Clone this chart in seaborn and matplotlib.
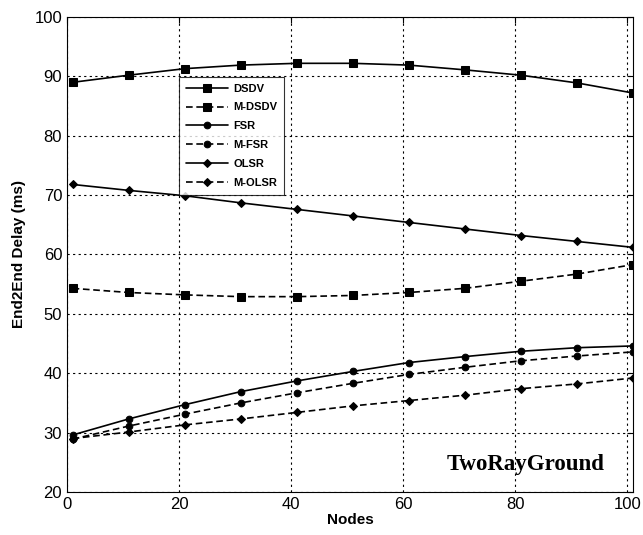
import matplotlib
matplotlib.use("Agg")
import matplotlib.pyplot as plt
import seaborn as sns
import pandas as pd

nodes = [1, 11, 21, 31, 41, 51, 61, 71, 81, 91, 101]
dsdv = [89.0, 90.2, 91.3, 91.9, 92.2, 92.2, 91.9, 91.1, 90.2, 88.9, 87.2]
m_dsdv = [54.3, 53.6, 53.2, 52.9, 52.9, 53.1, 53.6, 54.3, 55.5, 56.7, 58.3]
fsr = [29.6, 32.3, 34.7, 36.9, 38.7, 40.3, 41.8, 42.8, 43.7, 44.3, 44.6]
m_fsr = [28.9, 31.1, 33.1, 35.0, 36.7, 38.3, 39.8, 41.0, 42.1, 42.9, 43.6]
olsr = [71.8, 70.8, 69.9, 68.7, 67.6, 66.5, 65.4, 64.3, 63.2, 62.2, 61.2]
m_olsr = [29.0, 30.1, 31.3, 32.3, 33.4, 34.5, 35.4, 36.3, 37.4, 38.2, 39.2]
series_names = ["DSDV", "M-DSDV", "FSR", "M-FSR", "OLSR", "M-OLSR"]
x_ticks = [0, 20, 40, 60, 80, 100]
y_ticks = [20, 30, 40, 50, 60, 70, 80, 90, 100]

sns.set_style("white")
plt.rcParams["font.family"] = ["Liberation Sans", "DejaVu Sans"]
plt.rcParams["text.color"] = "black"
plt.rcParams["axes.labelcolor"] = "black"
plt.rcParams["xtick.color"] = "black"
plt.rcParams["ytick.color"] = "black"

fig = plt.figure(figsize=(6.43, 5.35), dpi=100)
ax = fig.add_axes([0.1042, 0.0804, 0.8802, 0.8878])

values = [dsdv, m_dsdv, fsr, m_fsr, olsr, m_olsr]
styles = [("-", "s", 5.5), ("--", "s", 5.5), ("-", "o", 4.8),
          ("--", "o", 4.8), ("-", "D", 3.8), ("--", "D", 3.8)]
for name, vals, (ls, mk, ms) in zip(series_names, values, styles):
    df = pd.DataFrame({"Nodes": nodes, "Delay": vals})
    sns.lineplot(data=df, x="Nodes", y="Delay", ax=ax, color="black",
                 linestyle=ls, marker=mk, markersize=ms, linewidth=1.2,
                 markeredgecolor="black", markerfacecolor="black",
                 label=name, errorbar=None)
    if ls == "--":
        ax.lines[-1].set_dashes((4, 2.2))

ax.set_xlim(0, 101)
ax.set_ylim(20, 100)
ax.set_xticks(x_ticks)
ax.set_yticks(y_ticks)
ax.grid(True, color="black", linestyle=(0, (2, 3)), linewidth=0.8)
ax.tick_params(direction="in", length=4, labelsize=12, top=True, right=True,
               colors="black")
for s in ax.spines.values():
    s.set_color("black")
    s.set_linewidth(0.8)

ax.set_xlabel("Nodes", fontsize=11, fontweight="bold", labelpad=1)
ax.set_ylabel("End2End Delay (ms)", fontsize=11, fontweight="bold", labelpad=6)

leg = ax.legend(loc="upper left", bbox_to_anchor=(0.198, 0.874), ncol=1,
                prop={"size": 8, "weight": "bold"}, handlelength=3.8,
                frameon=True, fancybox=False, borderaxespad=0,
                labelspacing=0.8, borderpad=0.6, handletextpad=0.5)
leg.get_frame().set_edgecolor("black")
leg.get_frame().set_linewidth(0.8)
for t in leg.get_texts():
    t.set_color("black")

ax.text(81.8, 24.6, "TwoRayGround", fontsize=16.5, fontweight="bold",
        family=["Liberation Serif", "DejaVu Serif"], ha="center", va="center",
        color="black")

fig.savefig("out.png", dpi=100, facecolor="white")
